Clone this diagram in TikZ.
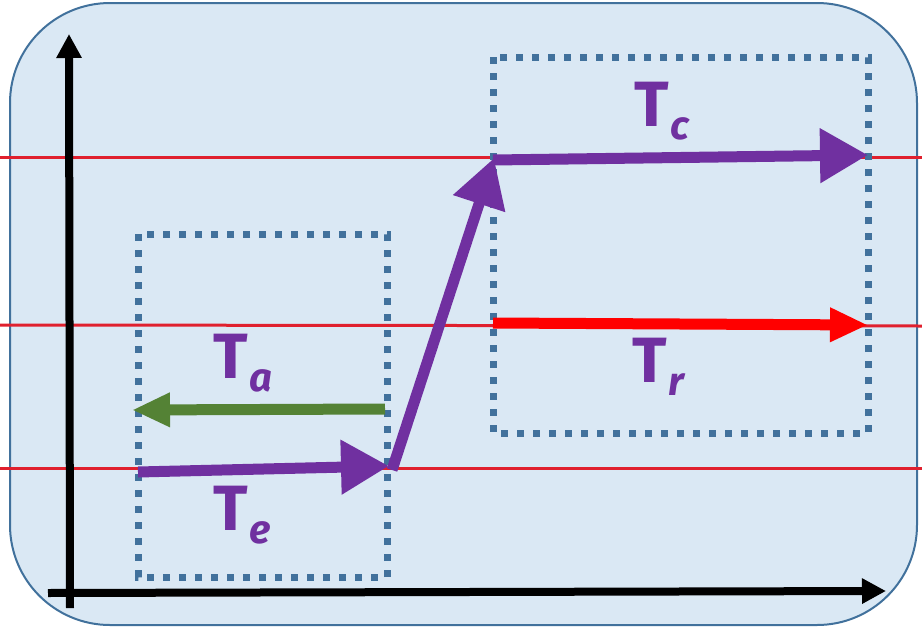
\documentclass[tikz,border=0pt]{standalone}
\usepackage{fontspec}
\setmainfont{Fira Sans}
\usetikzlibrary{arrows.meta}
\definecolor{panel}{HTML}{DAE8F4}
\definecolor{panelborder}{HTML}{41719C}
\definecolor{redline}{HTML}{E0202E}
\definecolor{purp}{HTML}{7030A0}
\definecolor{grn}{HTML}{548235}
\definecolor{dotc}{HTML}{41719C}
\newcommand\tlab[1]{T\kern2pt\raisebox{-0.2em}{\fontsize{40}{40}\selectfont\itshape #1}}
\tikzset{
  level/.style={draw=redline, line width=3pt},
  axis/.style={line width=8pt, -{Triangle[length=24pt,width=24pt]}},
  dotbox/.style={draw=dotc, line width=7pt, dash pattern=on 7pt off 9pt},
  bigarrow/.style={draw=purp, line width=11pt, -{Triangle[length=48pt,width=52pt]}},
  midarrow/.style={line width=11pt, -{Triangle[length=38pt,width=32pt]}},
  lab/.style={text=purp, font=\fontsize{64}{64}\selectfont\bfseries, inner sep=0pt}
}
\begin{document}
\begin{tikzpicture}[x=1pt,y=-1pt]
\useasboundingbox (0,0) rectangle (922,627);
\draw[fill=panel, draw=panelborder, line width=2pt, rounded corners=100pt] (10,3) rectangle (917,625);
% level lines
\coordinate (l1a) at (0,157); \coordinate (l1b) at (922,157);
\coordinate (l2a) at (0,325); \coordinate (l2b) at (922,326);
\coordinate (l3a) at (0,468); \coordinate (l3b) at (922,468);
\draw[level] (l1a) -- (l1b);
\draw[level] (l2a) -- (l2b);
\draw[level] (l3a) -- (l3b);
% dotted boxes
\draw[dotbox] (138,234) rectangle (387,577);
\draw[dotbox] (493,57) rectangle (868,433);
% axes
\coordinate (yo) at (70,608); \coordinate (yt) at (69,34);
\coordinate (xo) at (48,593); \coordinate (xt) at (886,591);
\draw[axis] (yo) -- (yt);
\draw[axis] (xo) -- (xt);
% arrows
\coordinate (e0) at (138,472);
\coordinate (e1) at (389,466);
\coordinate (s0) at (392,470);
\coordinate (s1) at (494,158);
\coordinate (c0) at (493,160);
\coordinate (c1) at (868,155);
\coordinate (r0) at (493,323);
\coordinate (r1) at (868,325);
\coordinate (a0) at (385,409);
\coordinate (a1) at (132,410);
\draw[bigarrow] (e0) -- (e1);
\draw[bigarrow] (s0) -- (s1);
\draw[bigarrow] (c0) -- (c1);
\draw[midarrow, draw=red] (r0) -- (r1);
\draw[midarrow, draw=grn] (a0) -- (a1);
% labels
\node[lab, anchor=north west] (ta) at (213,334) {\tlab{a}};
\node[lab, anchor=north west] (te) at (213,486) {\tlab{e}};
\node[lab, anchor=north west] (tc) at (634,82) {\tlab{c}};
\node[lab, anchor=north west] (tr) at (632,338) {\tlab{r}};
\end{tikzpicture}
\end{document}
